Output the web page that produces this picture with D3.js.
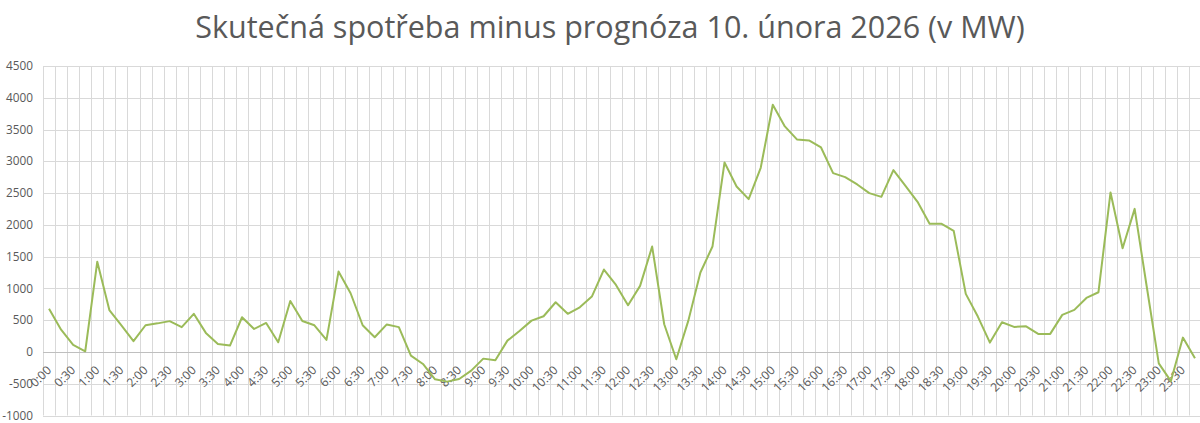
<!DOCTYPE html>
<html>
<head>
<meta charset="utf-8">
<script src="https://cdn.jsdelivr.net/npm/d3@7"></script>
<style>
	body{margin:0;background:#fff;}
	svg text{font-family:"Open Sans",sans-serif;fill:#595959;}
</style>
</head>
<body>
<svg id="chart" width="1200" height="423"></svg>
<script>
// ---------------------------------------------- DATA --------------------------------------------------
var TITLE = "Skutečná spotřeba minus prognóza 10. února 2026 (v MW)";

// 15 minute slots 0:00 .. 23:45
var TIMES = [];
for (var h=0;h<24;h++){
	for (var m=0;m<60;m+=15){
		TIMES.push(h+":"+(m<10?"0"+m:m));
	}
}

// actual consumption minus forecast [MW]
var DIFF_MW = [
	680, 350, 110, 10, 1420, 660, 420, 170,
	420, 450, 485, 390, 600, 300, 125, 100,
	546, 362, 457, 152, 803, 488, 420, 189,
	1265, 924, 420, 231, 433, 391, -58, -189,
	-430, -467, -425, -294, -105, -131, 178, 330,
	493, 562, 782, 600, 703, 871, 1297, 1055,
	735, 1040, 1659, 436, -115, 493, 1250, 1659,
	2982, 2604, 2405, 2898, 3890, 3549, 3345, 3329,
	3218, 2814, 2751, 2636, 2499, 2441, 2861, 2615,
	2363, 2016, 2016, 1906, 914, 557, 147, 467,
	394, 404, 284, 284, 583, 662, 850, 940,
	2510, 1633, 2252, 1030, -180, -460, 226, -100
];

var Y_TICKS = [-1000,-500,0,500,1000,1500,2000,2500,3000,3500,4000,4500];

// ---------------------------------------------- LAYOUT --------------------------------------------------
var PLOT_LEFT = 43, PLOT_RIGHT = 1201, PLOT_TOP = 66, PLOT_BOTTOM = 415.5;
var COLOR_LINE = "#9bbb59";
var COLOR_GRID = "#d9d9d9";

var svg = d3.select("#chart");

var x = d3.scaleBand().domain(TIMES).range([PLOT_LEFT,PLOT_RIGHT]).padding(0);
var y = d3.scaleLinear().domain([Y_TICKS[0],Y_TICKS[Y_TICKS.length-1]]).range([PLOT_BOTTOM,PLOT_TOP]);

drawGrid();
drawAxes();
drawSeries();
drawTitle();

/**
* horizontal + vertical gridlines
*/
function drawGrid(){
	var gGrid = svg.append("g").attr("id","grid");

	gGrid.selectAll("line.h")
		.data(Y_TICKS.filter(function(d){return d!=0;}))
		.enter().append("line")
		.attr("class","h")
		.attr("x1",PLOT_LEFT).attr("x2",PLOT_RIGHT)
		.attr("y1",function(d){return Math.round(y(d))+0.5;})
		.attr("y2",function(d){return Math.round(y(d))+0.5;})
		.attr("stroke",COLOR_GRID).attr("stroke-width",1);

	// one line between every category (and at both ends)
	var _bounds = TIMES.map(function(t){return x(t);});
	_bounds.push(PLOT_RIGHT);
	gGrid.selectAll("line.v")
		.data(_bounds)
		.enter().append("line")
		.attr("class","v")
		.attr("x1",function(d){return Math.round(d)+0.5;})
		.attr("x2",function(d){return Math.round(d)+0.5;})
		.attr("y1",PLOT_TOP).attr("y2",PLOT_BOTTOM)
		.attr("stroke",COLOR_GRID).attr("stroke-width",1);
}

/**
* value axis left, category axis crossing at 0
*/
function drawAxes(){
	var gAxes = svg.append("g").attr("id","axes");

	gAxes.selectAll("text.ylabel")
		.data(Y_TICKS)
		.enter().append("text")
		.attr("class","ylabel")
		.attr("x",33)
		.attr("y",function(d){return y(d);})
		.attr("dy","0.35em")
		.attr("text-anchor","end")
		.style("font-size","11.8px")
		.text(function(d){return d;});

	// category axis line at zero
	var _y0 = Math.round(y(0))+0.5;
	gAxes.append("line")
		.attr("x1",PLOT_LEFT).attr("x2",PLOT_RIGHT)
		.attr("y1",_y0).attr("y2",_y0)
		.attr("stroke","#bfbfbf").attr("stroke-width",1);

	// every 2nd slot gets a label (half hours)
	var _bw = x.bandwidth();
	gAxes.selectAll("text.xlabel")
		.data(TIMES.filter(function(d,i){return i%2==0;}))
		.enter().append("text")
		.attr("class","xlabel")
		.attr("text-anchor","end")
		.attr("transform",function(d){
			return "translate("+(x(d)+_bw/2+3)+","+(y(0)+19)+") rotate(-45)";
		})
		.style("font-size","12px")
		.text(function(d){return d;});
}

/**
*/
function drawSeries(){
	var _line = d3.line()
		.x(function(d,i){return x(TIMES[i])+x.bandwidth()/2;})
		.y(function(d){return y(d);});

	svg.append("path")
		.datum(DIFF_MW)
		.attr("d",_line)
		.attr("fill","none")
		.attr("stroke",COLOR_LINE)
		.attr("stroke-width",2)
		.attr("stroke-linejoin","round");
}

function drawTitle(){
	svg.append("text")
		.attr("x",610)
		.attr("y",38)
		.attr("text-anchor","middle")
		.style("font-size","30.5px")
		.text(TITLE);
}
</script>
</body>
</html>
